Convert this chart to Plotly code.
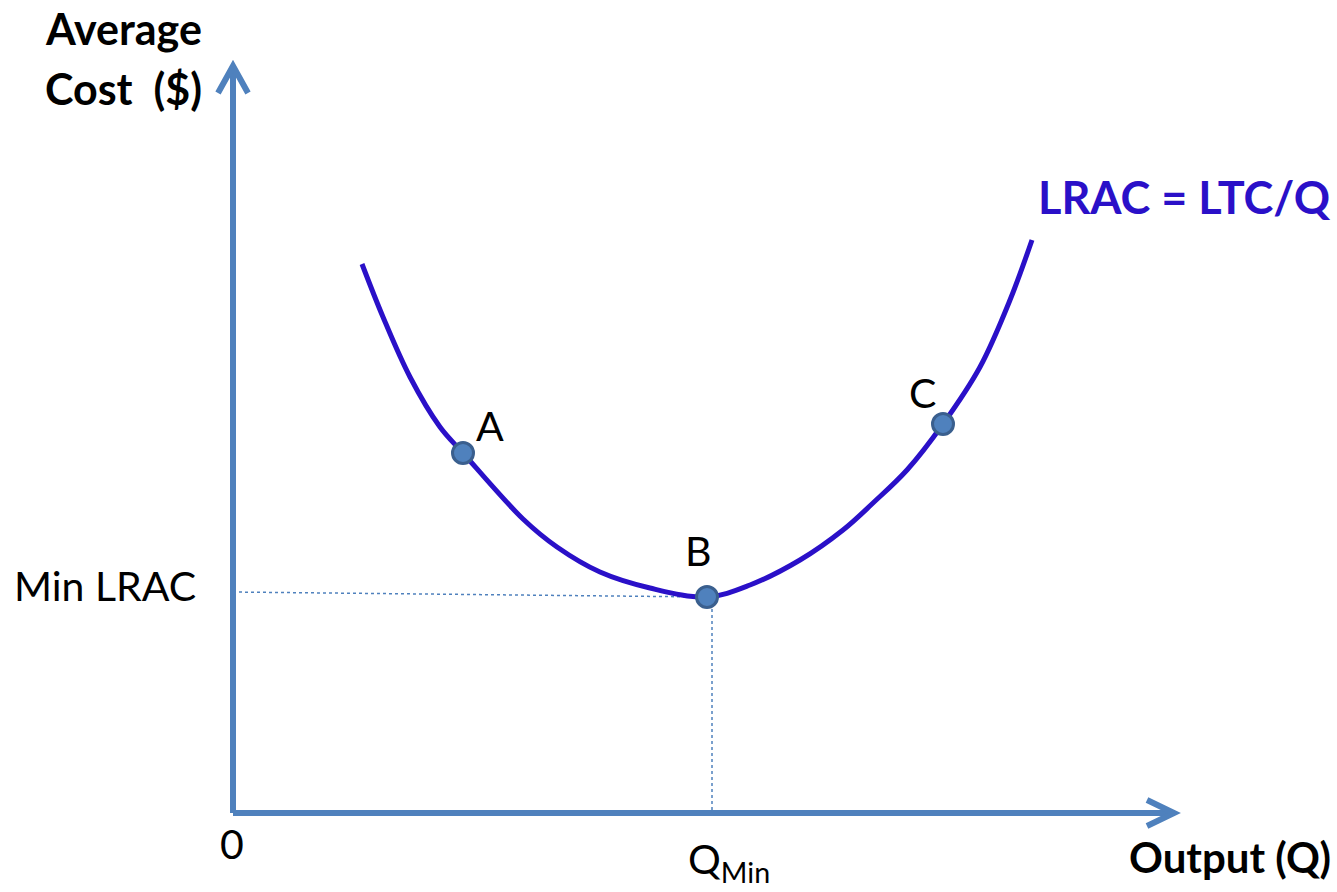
import plotly.graph_objects as go

# LRAC curve (origin at the axes corner)
curve_q = [129, 150, 177, 207, 230, 290, 324, 367, 417, 474, 517, 567, 610, 640, 674, 710, 747, 777, 799]
curve_ac = [549, 496, 436, 386, 360, 294, 266, 241, 225, 216, 228, 253, 283, 310, 343, 389, 446, 513, 573]

point_labels = ['A', 'B', 'C']
point_q = [230, 474, 710]
point_ac = [360, 216, 389]

axis_color = '#4F81BD'
curve_color = '#2A10C8'
font_family = 'Lato, "Open Sans", sans-serif'

fig = go.Figure()

# dotted guides to the minimum point B
b_q, b_ac = point_q[1], point_ac[1]
fig.add_trace(go.Scatter(
    x=[0, b_q], y=[b_ac + 5, b_ac],
    mode='lines', line=dict(color=axis_color, width=1.5, dash='dot'),
    hoverinfo='skip', showlegend=False
))
fig.add_trace(go.Scatter(
    x=[b_q + 5, b_q + 5], y=[b_ac, 0],
    mode='lines', line=dict(color=axis_color, width=1.5, dash='dot'),
    hoverinfo='skip', showlegend=False
))

# axes with open arrowheads
fig.add_shape(type='line', x0=0, y0=0, x1=0, y1=745, line=dict(color=axis_color, width=6))
fig.add_shape(type='line', x0=0, y0=0, x1=938, y1=0, line=dict(color=axis_color, width=6))
fig.add_shape(type='path', path='M -15,720 L 0,747 L 15,720', line=dict(color=axis_color, width=6))
fig.add_shape(type='path', path='M 914,13 L 941,0 L 914,-13', line=dict(color=axis_color, width=6))

# LRAC curve
fig.add_trace(go.Scatter(
    x=curve_q, y=curve_ac,
    mode='lines', line=dict(color=curve_color, width=5, shape='spline', smoothing=1.0),
    hoverinfo='skip', showlegend=False
))

# points A, B, C
fig.add_trace(go.Scatter(
    x=point_q, y=point_ac,
    mode='markers',
    marker=dict(size=21, color='#4F81BD', line=dict(color='#3A5F8E', width=3)),
    text=point_labels, hoverinfo='text', showlegend=False
))

label_offsets = [(27, 28), (-9, 47), (-21, 32)]
for lab, q, ac, (dx, dy) in zip(point_labels, point_q, point_ac, label_offsets):
    fig.add_annotation(x=q + dx, y=ac + dy, text=lab, showarrow=False,
                       font=dict(size=41, color='black', family=font_family))

texts = [
    dict(x=-190, y=785, text='<b>Average</b>', xanchor='left', size=43, color='black'),
    dict(x=-190, y=725, text='<b>Cost  ($)</b>', xanchor='left', size=43, color='black'),
    dict(x=1100, y=616, text='<b>LRAC = LTC/Q</b>', xanchor='right', size=45, color=curve_color),
    dict(x=-221, y=228, text='Min LRAC', xanchor='left', size=41, color='black'),
    dict(x=-1, y=-30, text='0', xanchor='center', size=41, color='black'),
    dict(x=453, y=-48, text='Q<sub>Min</sub>', xanchor='left', size=41, color='black'),
    dict(x=1100, y=-44, text='<b>Output (Q)</b>', xanchor='right', size=42, color='black'),
]
for t in texts:
    fig.add_annotation(x=t['x'], y=t['y'], text=t['text'], showarrow=False,
                       xanchor=t['xanchor'], yanchor='middle',
                       font=dict(size=t['size'], color=t['color'], family=font_family))

fig.update_layout(
    width=1337,
    height=892,
    autosize=False,
    margin=dict(l=0, r=0, t=0, b=0),
    paper_bgcolor='white',
    plot_bgcolor='white',
    xaxis=dict(range=[-233, 1104], visible=False, fixedrange=True),
    yaxis=dict(range=[-79, 813], visible=False, fixedrange=True),
    showlegend=False
)

fig.write_html(
    "out.html",
    config={'displayModeBar': False},
    post_script="document.body.style.margin='0';document.body.style.overflow='hidden';"
)
